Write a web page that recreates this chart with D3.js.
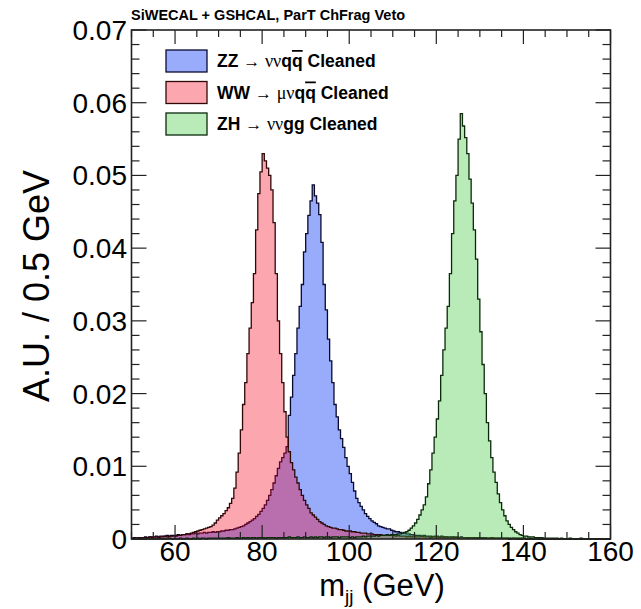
<!DOCTYPE html>
<html><head><meta charset="utf-8">
<script src="https://cdn.jsdelivr.net/npm/d3@7"></script>
<style>
body{margin:0;background:#fff}
text{font-family:"Liberation Sans",Arial,Helvetica,sans-serif;fill:#000}
</style>
</head><body>
<svg id="c" width="641" height="609"></svg>
<script>
// ---- data: bin contents, 0.5 GeV bins starting at 50 GeV ----
const binStart = 50, binWidth = 0.5;
const zzValues = [
 0.0001,0.0002,0.0001,0.0002,0.0002,0.0002,0.0003,0.0002,0.0003,0.0003, 0.0003,0.0004,0.0003,0.0004,0.0004,0.0004,0.0005,0.0004,0.0005,0.0005,
 0.0005,0.0006,0.0005,0.0006,0.0006,0.0007,0.0006,0.0007,0.0007,0.0008, 0.0007,0.0008,0.0008,0.0009,0.0008,0.0009,0.0009,0.0010,0.0009,0.0010,
 0.0010,0.0011,0.0011,0.0012,0.0012,0.0013,0.0013,0.0014,0.0015,0.0016, 0.0017,0.0018,0.0020,0.0022,0.0024,0.0026,0.0028,0.0031,0.0034,0.0038,
 0.0042,0.0047,0.0053,0.0060,0.0068,0.0077,0.0087,0.0097,0.0106,0.0112, 0.0118,0.0127,0.0170,0.0195,0.0225,0.0255,0.0290,0.0320,0.0350,0.0395,
 0.0420,0.0445,0.0465,0.0487,0.0472,0.0462,0.0446,0.0408,0.0350,0.0315, 0.0275,0.0245,0.0215,0.0185,0.0168,0.0150,0.0138,0.0126,0.0112,0.0100,
 0.0090,0.0078,0.0066,0.0056,0.0050,0.0045,0.0040,0.0035,0.0031,0.0028, 0.0025,0.0023,0.0021,0.0018,0.0017,0.0016,0.0015,0.0014,0.0014,0.0012,
 0.0011,0.0010,0.0010,0.0009,0.0008,0.0008,0.0007,0.0007,0.0006,0.0006, 0.0005,0.0005,0.0005,0.0004,0.0005,0.0004,0.0004,0.0004,0.0003,0.0004,
 0.0004,0.0003,0.0004,0.0003,0.0003,0.0003,0.0003,0.0002,0.0003,0.0003, 0.0002,0.0003,0.0002,0.0002,0.0002,0.0002,0.0002,0.0002,0.0001,0.0002,
 0.0002,0.0001,0.0002,0.0001,0.0001,0.0002,0.0001,0.0001,0.0001,0.0001, 0.0001,0.0001,0.0001,0.0001,0.0000,0.0001,0.0001,0.0000,0.0001,0.0000,
 0.0001,0.0000,0.0001,0.0000,0.0000,0.0001,0.0000,0.0000,0.0000,0.0000, 0.0000,0.0000,0.0000,0.0000,0.0000,0.0000,0.0000,0.0000,0.0000,0.0000,
 0.0000,0.0000,0.0000,0.0000,0.0000,0.0000,0.0000,0.0000,0.0000,0.0000, 0.0000,0.0000,0.0000,0.0000,0.0000,0.0000,0.0000,0.0000,0.0000,0.0000
];
const wwValues = [
 0.0001,0.0001,0.0001,0.0002,0.0001,0.0002,0.0002,0.0002,0.0003,0.0002, 0.0003,0.0003,0.0002,0.0003,0.0003,0.0004,0.0003,0.0004,0.0004,0.0004,
 0.0004,0.0005,0.0005,0.0006,0.0006,0.0007,0.0007,0.0008,0.0009,0.0010, 0.0011,0.0012,0.0013,0.0014,0.0015,0.0016,0.0017,0.0019,0.0022,0.0026,
 0.0029,0.0032,0.0035,0.0039,0.0043,0.0049,0.0056,0.0070,0.0092,0.0118, 0.0150,0.0185,0.0215,0.0255,0.0290,0.0325,0.0365,0.0425,0.0475,0.0505,
 0.0530,0.0520,0.0510,0.0500,0.0480,0.0435,0.0365,0.0300,0.0255,0.0215, 0.0175,0.0140,0.0120,0.0105,0.0095,0.0085,0.0077,0.0068,0.0060,0.0053,
 0.0047,0.0042,0.0036,0.0033,0.0030,0.0027,0.0024,0.0022,0.0020,0.0018, 0.0017,0.0016,0.0015,0.0015,0.0014,0.0013,0.0013,0.0012,0.0011,0.0011,
 0.0011,0.0010,0.0010,0.0009,0.0009,0.0008,0.0008,0.0008,0.0007,0.0007, 0.0007,0.0006,0.0006,0.0006,0.0006,0.0005,0.0005,0.0005,0.0005,0.0005,
 0.0005,0.0004,0.0005,0.0004,0.0004,0.0004,0.0003,0.0004,0.0003,0.0004, 0.0003,0.0003,0.0003,0.0004,0.0003,0.0003,0.0003,0.0002,0.0003,0.0003,
 0.0003,0.0002,0.0003,0.0002,0.0003,0.0002,0.0002,0.0003,0.0002,0.0002, 0.0002,0.0002,0.0002,0.0002,0.0001,0.0002,0.0002,0.0001,0.0002,0.0001,
 0.0001,0.0002,0.0001,0.0001,0.0001,0.0002,0.0001,0.0001,0.0001,0.0001, 0.0001,0.0001,0.0001,0.0000,0.0001,0.0001,0.0000,0.0001,0.0000,0.0001,
 0.0001,0.0000,0.0000,0.0001,0.0000,0.0000,0.0001,0.0000,0.0000,0.0000, 0.0000,0.0000,0.0000,0.0000,0.0000,0.0000,0.0000,0.0000,0.0000,0.0000,
 0.0000,0.0000,0.0000,0.0000,0.0000,0.0000,0.0000,0.0000,0.0000,0.0000, 0.0000,0.0000,0.0000,0.0000,0.0000,0.0000,0.0000,0.0000,0.0000,0.0000
];
const zhValues = [
 0.0000,0.0000,0.0000,0.0000,0.0000,0.0000,0.0000,0.0000,0.0000,0.0000, 0.0000,0.0000,0.0000,0.0000,0.0000,0.0000,0.0000,0.0001,0.0000,0.0000,
 0.0000,0.0000,0.0001,0.0000,0.0000,0.0001,0.0000,0.0000,0.0001,0.0000, 0.0001,0.0000,0.0001,0.0001,0.0000,0.0001,0.0001,0.0001,0.0001,0.0001,
 0.0001,0.0001,0.0001,0.0001,0.0002,0.0001,0.0001,0.0001,0.0002,0.0001, 0.0001,0.0002,0.0001,0.0002,0.0001,0.0002,0.0002,0.0001,0.0002,0.0002,
 0.0002,0.0001,0.0002,0.0002,0.0002,0.0002,0.0001,0.0002,0.0002,0.0002, 0.0002,0.0002,0.0003,0.0002,0.0002,0.0002,0.0003,0.0002,0.0002,0.0003,
 0.0002,0.0002,0.0003,0.0002,0.0003,0.0002,0.0003,0.0003,0.0002,0.0003, 0.0003,0.0002,0.0003,0.0003,0.0003,0.0002,0.0003,0.0003,0.0003,0.0003,
 0.0002,0.0003,0.0002,0.0003,0.0003,0.0003,0.0004,0.0003,0.0004,0.0004, 0.0004,0.0004,0.0005,0.0004,0.0005,0.0005,0.0005,0.0006,0.0005,0.0006,
 0.0006,0.0006,0.0007,0.0007,0.0008,0.0009,0.0010,0.0012,0.0015,0.0018, 0.0022,0.0027,0.0033,0.0040,0.0047,0.0058,0.0076,0.0095,0.0118,0.0140,
 0.0165,0.0190,0.0225,0.0260,0.0290,0.0320,0.0365,0.0420,0.0465,0.0500, 0.0550,0.0585,0.0568,0.0552,0.0530,0.0495,0.0462,0.0425,0.0385,0.0330,
 0.0285,0.0240,0.0200,0.0160,0.0135,0.0112,0.0092,0.0078,0.0062,0.0050, 0.0040,0.0032,0.0025,0.0020,0.0016,0.0013,0.0010,0.0008,0.0006,0.0005,
 0.0004,0.0004,0.0003,0.0003,0.0003,0.0002,0.0002,0.0002,0.0002,0.0001, 0.0001,0.0001,0.0001,0.0001,0.0001,0.0001,0.0000,0.0001,0.0000,0.0000,
 0.0000,0.0001,0.0000,0.0000,0.0000,0.0000,0.0001,0.0000,0.0000,0.0000, 0.0000,0.0000,0.0000,0.0000,0.0000,0.0000,0.0000,0.0000,0.0000,0.0000
];
const seriesNames = ["ZZ", "WW", "ZH"];
const xTickValues = [60, 80, 100, 120, 140, 160];
const yTickValues = [0, 0.01, 0.02, 0.03, 0.04, 0.05, 0.06, 0.07];
const yTickLabels = ["0", "0.01", "0.02", "0.03", "0.04", "0.05", "0.06", "0.07"];
const titleText = "SiWECAL + GSHCAL, ParT ChFrag Veto";

// ---- drawing ----
const svg = d3.select("#c");
const L = 131.5, R = 610.5, T = 30, B = 539;
const x = d3.scaleLinear().domain([50, 160]).range([L, R]);
const y = d3.scaleLinear().domain([0, 0.07]).range([B, T]);

const series = [
  {name: seriesNames[0], values: zzValues, fill: "rgb(0,45,245)", op: 0.4, stroke: "#0a0a30"},
  {name: seriesNames[1], values: wwValues, fill: "rgb(245,0,30)", op: 0.35, stroke: "#300808"},
  {name: seriesNames[2], values: zhValues, fill: "rgb(40,195,40)", op: 0.33, stroke: "#0a2a0a"}
];

function pts(vals) {
  const p = vals.map((v, i) => [binStart + i * binWidth, v]);
  p.push([binStart + vals.length * binWidth, vals[vals.length - 1]]);
  return p;
}
const area = d3.area().x(d => x(d[0])).y0(y(0)).y1(d => y(d[1])).curve(d3.curveStepAfter);
const line = d3.line().x(d => x(d[0])).y(d => y(d[1])).curve(d3.curveStepAfter);

const gH = svg.append("g");
series.forEach(s => {
  const p = pts(s.values);
  gH.append("path").attr("d", area(p)).attr("fill", s.fill).attr("fill-opacity", s.op).attr("stroke", "none");
  gH.append("path").attr("d", line(p)).attr("fill", "none").attr("stroke", s.stroke).attr("stroke-width", 1.3);
});

// frame + ticks
const gA = svg.append("g").attr("stroke", "#222").attr("stroke-width", 1.2);
gA.append("rect").attr("x", L).attr("y", T).attr("width", R - L).attr("height", B - T).attr("fill", "none").attr("stroke-width", 1.6);
const xMinor = d3.range(50, 160.01, 5);
xMinor.forEach(v => {
  const len = xTickValues.includes(v) ? 14 : 7;
  gA.append("line").attr("x1", x(v)).attr("x2", x(v)).attr("y1", B).attr("y2", B - len);
  gA.append("line").attr("x1", x(v)).attr("x2", x(v)).attr("y1", T).attr("y2", T + len);
});
const yMinor = d3.range(0, 0.07001, 0.002);
yMinor.forEach(v => {
  const isMaj = Math.abs(v * 100 - Math.round(v * 100)) < 1e-6;
  const len = isMaj ? 15 : 8;
  gA.append("line").attr("x1", L).attr("x2", L + len).attr("y1", y(v)).attr("y2", y(v));
  gA.append("line").attr("x1", R).attr("x2", R - len).attr("y1", y(v)).attr("y2", y(v));
});

// tick labels
xTickValues.forEach(v => {
  svg.append("text").attr("x", x(v)).attr("y", 561).attr("text-anchor", "middle")
    .style("font-size", "28px").text(String(v));
});
yTickValues.forEach((v, i) => {
  svg.append("text").attr("x", 127).attr("y", y(v) + 10).attr("text-anchor", "end")
    .style("font-size", "28px").text(yTickLabels[i]);
});

// axis titles
const xt = svg.append("text").attr("x", 382).attr("y", 596).attr("text-anchor", "middle").style("font-size", "31px");
xt.append("tspan").text("m");
xt.append("tspan").attr("dy", 7).style("font-size", "19px").text("jj");
xt.append("tspan").attr("dy", -7).text(" (GeV)");

svg.append("text").attr("transform", "translate(49,286) rotate(-90)").attr("text-anchor", "middle")
  .style("font-size", "36px").text("A.U. / 0.5 GeV");

svg.append("text").attr("x", 131).attr("y", 20).style("font-size", "14.5px").style("font-weight", "bold").text(titleText);

// legend
const legItems = [
  {s: series[0], parts: [["ZZ ", "b"], ["\u2192 ", "n"], ["\u03bd\u03bd", "g"], ["q", "b"], ["q", "bo"], [" Cleaned", "b"]]},
  {s: series[1], parts: [["WW ", "b"], ["\u2192 ", "n"], ["\u03bc\u03bd", "g"], ["q", "b"], ["q", "bo"], [" Cleaned", "b"]]},
  {s: series[2], parts: [["ZH ", "b"], ["\u2192 ", "n"], ["\u03bd\u03bd", "g"], ["gg Cleaned", "b"]]}
];
const legY = [61, 92.5, 124];
legItems.forEach((it, i) => {
  const cy = legY[i];
  svg.append("rect").attr("x", 166).attr("y", cy - 11).attr("width", 41).attr("height", 22)
    .attr("fill", it.s.fill).attr("fill-opacity", it.s.op).attr("stroke", it.s.stroke).attr("stroke-width", 1.3);
  const t = svg.append("text").attr("x", 217).attr("y", cy + 6).style("font-size", "17.5px");
  it.parts.forEach(([str, k]) => {
    const sp = t.append("tspan").text(str);
    if (k === "b" || k === "bo") sp.style("font-weight", "bold");
    if (k === "bo") sp.style("text-decoration", "overline");
    if (k === "g") sp.style("font-family", "'Liberation Serif','Times New Roman',serif").style("font-size", "18px");
    if (k === "n") sp.style("font-size", "17px");
  });
});
</script>
</body></html>
